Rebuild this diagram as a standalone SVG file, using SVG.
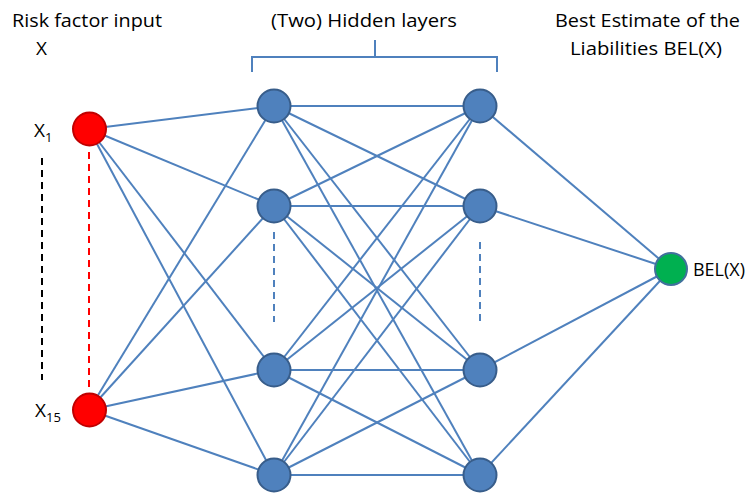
<svg xmlns="http://www.w3.org/2000/svg" width="748" height="497" viewBox="0 0 748 497">
<style>
.t{font-family:"Open Sans","Liberation Sans",sans-serif;font-size:19px;fill:#000}
.e line{stroke:#4f81bd;stroke-width:2}
.h{fill:#4f81bd;stroke:#385d8a;stroke-width:2}
.r{fill:#ff0000;stroke:#c00000;stroke-width:2}
.g{fill:#00b050;stroke:#41719c;stroke-width:2}
</style>
<rect width="748" height="497" fill="#fff"/>
<text class="t" x="12" y="27" textLength="150" lengthAdjust="spacingAndGlyphs">Risk factor input</text>
<text class="t" x="36" y="55">X</text>
<text class="t" x="271" y="27" textLength="186" lengthAdjust="spacingAndGlyphs">(Two) Hidden layers</text>
<text class="t" x="555" y="27" textLength="185" lengthAdjust="spacingAndGlyphs">Best Estimate of the</text>
<text class="t" x="570" y="55" textLength="152" lengthAdjust="spacingAndGlyphs">Liabilities BEL(X)</text>
<path d="M252,72 V57 H375 V40 M375,57 H497 V72" fill="none" stroke="#4f81bd" stroke-width="2"/>
<line x1="42" y1="158" x2="42" y2="380" stroke="#000" stroke-width="2" stroke-dasharray="7,5"/>
<line x1="89" y1="152" x2="89" y2="388" stroke="#ff0000" stroke-width="2" stroke-dasharray="7,5"/>
<line x1="274" y1="232" x2="274" y2="322" stroke="#4f81bd" stroke-width="2" stroke-dasharray="7,5"/>
<line x1="480" y1="242" x2="480" y2="322" stroke="#4f81bd" stroke-width="2" stroke-dasharray="7,5"/>
<g id="edges" class="e">
<line x1="89" y1="129" x2="274" y2="106"/><line x1="89" y1="129" x2="274" y2="206"/><line x1="89" y1="129" x2="274" y2="370"/><line x1="89" y1="129" x2="274" y2="475"/>
<line x1="89" y1="410" x2="274" y2="106"/><line x1="89" y1="410" x2="274" y2="206"/><line x1="89" y1="410" x2="274" y2="370"/><line x1="89" y1="410" x2="274" y2="475"/>
<line x1="274" y1="106" x2="480" y2="106"/><line x1="274" y1="106" x2="480" y2="206"/><line x1="274" y1="106" x2="480" y2="370"/><line x1="274" y1="106" x2="480" y2="475"/>
<line x1="274" y1="206" x2="480" y2="106"/><line x1="274" y1="206" x2="480" y2="206"/><line x1="274" y1="206" x2="480" y2="370"/><line x1="274" y1="206" x2="480" y2="475"/>
<line x1="274" y1="370" x2="480" y2="106"/><line x1="274" y1="370" x2="480" y2="206"/><line x1="274" y1="370" x2="480" y2="370"/><line x1="274" y1="370" x2="480" y2="475"/>
<line x1="274" y1="475" x2="480" y2="106"/><line x1="274" y1="475" x2="480" y2="206"/><line x1="274" y1="475" x2="480" y2="370"/><line x1="274" y1="475" x2="480" y2="475"/>
<line x1="480" y1="106" x2="671" y2="269"/><line x1="480" y1="206" x2="671" y2="269"/><line x1="480" y1="370" x2="671" y2="269"/><line x1="480" y1="475" x2="671" y2="269"/>
</g>
<g id="x1"><circle class="r" cx="89.5" cy="129" r="16.5"/><text class="t" x="34" y="137">X<tspan font-size="13" dy="5">1</tspan></text></g>
<g id="x15"><circle class="r" cx="89.5" cy="410" r="16.5"/><text class="t" x="35" y="417">X<tspan font-size="13" dy="5">15</tspan></text></g>
<g id="h1a"><circle class="h" cx="274" cy="106" r="16.5"/></g>
<g id="h1b"><circle class="h" cx="274" cy="206" r="16.5"/></g>
<g id="h1c"><circle class="h" cx="274" cy="370" r="16.5"/></g>
<g id="h1d"><circle class="h" cx="274" cy="475" r="16.5"/></g>
<g id="h2a"><circle class="h" cx="480" cy="106" r="16.5"/></g>
<g id="h2b"><circle class="h" cx="480" cy="206" r="16.5"/></g>
<g id="h2c"><circle class="h" cx="480" cy="370" r="16.5"/></g>
<g id="h2d"><circle class="h" cx="480" cy="475" r="16.5"/></g>
<g id="out"><circle class="g" cx="671" cy="269" r="16"/><text class="t" x="693" y="276" font-size="16" textLength="52" lengthAdjust="spacingAndGlyphs">BEL(X)</text></g>
</svg>
